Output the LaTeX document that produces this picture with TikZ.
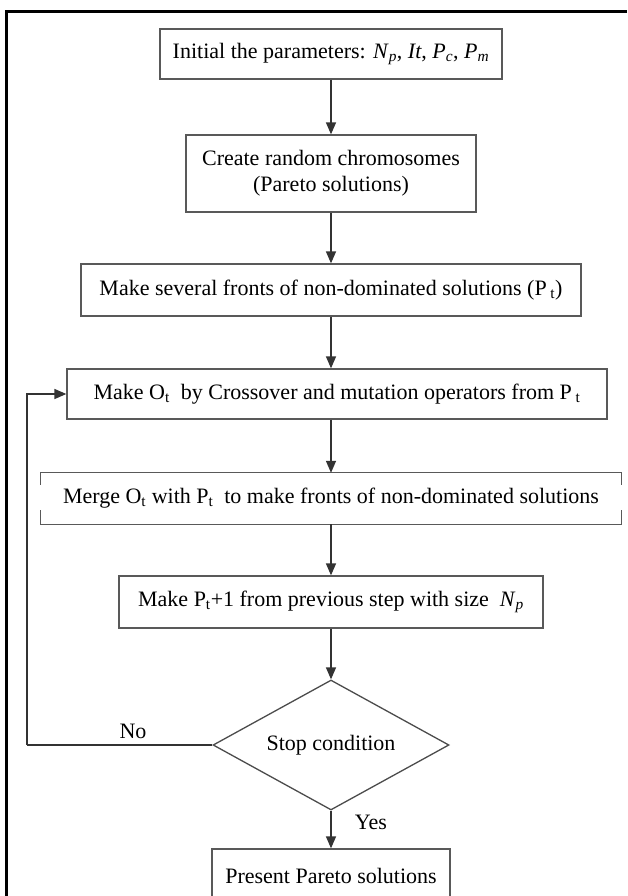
\documentclass[tikz,border=0pt]{standalone}
\usepackage{fontspec}
\setmainfont{Liberation Serif}
\usetikzlibrary{shapes.geometric,arrows.meta}
\begin{document}
\begin{tikzpicture}[x=1pt,y=-1pt,
  font=\fontsize{22}{26}\selectfont,
  box/.style={draw=black!65,line width=1.3pt,rectangle,inner sep=0pt,align=center},
  openbox/.style={rectangle,inner sep=0pt,align=center},
  dec/.style={draw=black!70,line width=1.3pt,diamond,inner sep=0pt},
  flow/.style={draw=black!80,line width=1.4pt,-{Triangle[length=12pt,width=10pt]}},
  link/.style={draw=black!80,line width=1.4pt},
  edge/.style={draw=black!65,line width=1.3pt},
  frame/.style={draw=black,line width=3pt},
  lbl/.style={inner sep=0pt}]
\clip (0,0) rectangle (627,896);
\useasboundingbox (0,0) rectangle (627,896);
\fill[white] (0,0) rectangle (627,896);
\draw[frame] (627,12) -- (6,12) -- (6,900);

\node[box,minimum width=342,minimum height=50] (b1) at (331,54)
  {Initial the parameters: \textit{N}\textsubscript{\textit{p}}, \textit{It}, \textit{P}\textsubscript{\textit{c}}, \textit{P}\textsubscript{\textit{m}}};
\node[box,minimum width=290,minimum height=77] (b2) at (331,173.5)
  {Create random chromosomes\\(Pareto solutions)};
\node[box,minimum width=500,minimum height=52] (b3) at (331,290)
  {Make several fronts of non-dominated solutions (P\,\textsubscript{t})};
\node[box,minimum width=540,minimum height=50] (b4) at (337,394)
  {Make O\textsubscript{t}\ \ by Crossover and mutation operators from P\,\textsubscript{t}};
\node[openbox,minimum width=581,minimum height=51] (b5) at (331,498.5)
  {Merge O\textsubscript{t} with P\textsubscript{t}\ \ to make fronts of non-dominated solutions};
\node[box,minimum width=424,minimum height=52] (b6) at (331,602)
  {Make P\textsubscript{t}+1 from previous step with size\ \ \textit{N}\textsubscript{\textit{p}}};
\node[dec,minimum width=236,minimum height=130] (d) at (331,745) {};
\node[lbl] (dt) at (d.center) {Stop condition};
\node[box,minimum width=238,minimum height=54] (b7) at (331,876)
  {Present Pareto solutions};

% broken box b5
\draw[edge] (b5.north west) -- (b5.north east);
\draw[edge] (b5.south west) -- (b5.south east);
\draw[edge] (b5.north west) -- ++(0,12);
\draw[edge] (b5.south west) -- ++(0,-14);
\draw[edge] (b5.north east) -- ++(0,12);
\draw[edge] (b5.south east) -- ++(0,-14);

\coordinate (fb) at (27,745);
\draw[flow] (b1.south) -- (b2.north);
\draw[flow] (b2.south) -- (b3.north);
\draw[flow] (b3.south) -- (b3.south |- b4.north);
\draw[flow] (b3.south |- b4.south) -- (b5.north);
\draw[flow] (b5.south) -- (b6.north);
\draw[flow] (b6.south) -- (d.north);
\draw[flow] (d.south) -- (b7.north);
\draw[link] (d.west) -- (fb);
\draw[flow] (fb) |- (b4.west);

\node[lbl] (no) at (133,731) {No};
\node[lbl] (yes) at (371,822) {Yes};
\end{tikzpicture}
\end{document}
